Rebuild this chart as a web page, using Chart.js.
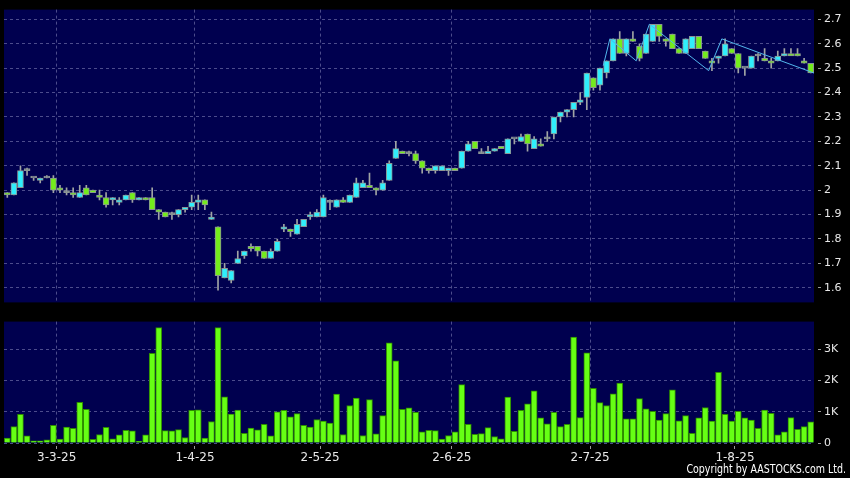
<!DOCTYPE html>
<html>
<head>
<meta charset="utf-8">
<script src="https://cdn.jsdelivr.net/npm/chart.js@4.4.1/dist/chart.umd.min.js"></script>
<style>
    html, body { margin: 0; padding: 0; background: #000; }
    #wrap { position: relative; width: 850px; height: 478px; overflow: hidden; background: #000; }
    #price { position: absolute; left: 0; top: 0; }
    #vol { position: absolute; left: 0; top: 312px; }
    #copy {
        position: absolute; right: 4px; top: 462px;
        color: #fff; font: 12px "DejaVu Sans"; white-space: nowrap;
        transform: scaleX(0.79); transform-origin: right top;
    }
</style>
</head>
<body>
<div id="wrap">
    <canvas id="price" width="850" height="312"></canvas>
    <canvas id="vol" width="850" height="166"></canvas>
    <div id="copy">Copyright by AASTOCKS.com Ltd.</div>
</div>
<script>
"use strict";

// daily candles, 20-2-25 .. 19-8-25
const open = [1.99,1.98,2.01,2.08,2.05,2.04,2.05,2.05,2.01,1.99, 1.99,1.97,2.01,2.00,1.98,1.97,1.96,1.95,1.96,1.99,
    1.96,1.97,1.97,1.92,1.91,1.90,1.90,1.92,1.93,1.95, 1.96,1.88,1.85,1.64,1.63,1.70,1.73,1.77,1.77,1.75,
    1.72,1.75,1.84,1.84,1.82,1.85,1.89,1.89,1.89,1.95, 1.93,1.96,1.95,1.97,2.01,2.02,2.01,2.00,2.04,2.13,
    2.16,2.15,2.15,2.12,2.09,2.08,2.08,2.08,2.09,2.09, 2.16,2.20,2.15,2.15,2.16,2.18,2.15,2.21,2.20,2.23,
    2.17,2.19,2.21,2.23,2.30,2.32,2.33,2.36,2.38,2.46, 2.43,2.48,2.53,2.62,2.56,2.62,2.59,2.56,2.61,2.68,
    2.62,2.64,2.58,2.56,2.58,2.63,2.57,2.53,2.54,2.55, 2.58,2.56,2.50,2.50,2.55,2.54,2.53,2.53,2.55,2.56,
    2.56,2.53,2.52];
const high = [1.99,2.03,2.10,2.09,2.05,2.05,2.06,2.06,2.02,2.01, 2.01,2.02,2.02,2.00,2.00,1.99,1.97,1.97,1.98,1.99,
    1.97,1.97,2.01,1.92,1.91,1.91,1.92,1.93,1.98,1.98, 1.96,1.91,1.85,1.70,1.67,1.75,1.75,1.78,1.77,1.75,
    1.76,1.80,1.86,1.84,1.88,1.88,1.91,1.92,1.98,1.96, 1.96,1.97,1.98,2.05,2.04,2.07,2.01,2.04,2.12,2.20,
    2.16,2.16,2.16,2.12,2.09,2.10,2.10,2.09,2.09,2.16, 2.20,2.20,2.17,2.18,2.17,2.18,2.21,2.21,2.23,2.23,
    2.22,2.21,2.24,2.30,2.32,2.33,2.36,2.40,2.48,2.46, 2.50,2.53,2.62,2.65,2.62,2.65,2.60,2.64,2.68,2.68,
    2.62,2.64,2.58,2.62,2.63,2.63,2.57,2.54,2.55,2.62, 2.58,2.56,2.50,2.55,2.56,2.58,2.54,2.57,2.58,2.58,
    2.58,2.54,2.52];
const low = [1.97,1.98,2.01,2.06,2.04,2.03,2.05,1.99,1.99,1.98, 1.97,1.97,1.98,1.99,1.96,1.93,1.94,1.94,1.96,1.95,
    1.96,1.96,1.92,1.88,1.89,1.88,1.89,1.91,1.92,1.92, 1.92,1.88,1.59,1.64,1.62,1.70,1.72,1.75,1.73,1.72,
    1.72,1.75,1.83,1.81,1.82,1.85,1.88,1.89,1.89,1.92, 1.93,1.95,1.95,1.97,2.01,2.01,1.98,2.00,2.04,2.13,
    2.15,2.14,2.11,2.07,2.07,2.07,2.08,2.06,2.08,2.09, 2.16,2.17,2.15,2.15,2.16,2.17,2.15,2.19,2.20,2.16,
    2.17,2.18,2.20,2.21,2.28,2.30,2.30,2.35,2.33,2.41, 2.41,2.46,2.53,2.56,2.55,2.61,2.53,2.56,2.61,2.61,
    2.59,2.58,2.56,2.56,2.58,2.58,2.54,2.49,2.52,2.55, 2.56,2.48,2.47,2.50,2.53,2.53,2.50,2.53,2.55,2.56,
    2.55,2.52,2.48];
const close = [1.98,2.03,2.08,2.08,2.05,2.05,2.05,2.00,2.00,1.99, 1.98,1.99,1.98,1.99,1.97,1.94,1.97,1.96,1.98,1.96,
    1.97,1.96,1.92,1.91,1.89,1.90,1.92,1.93,1.95,1.96, 1.94,1.89,1.65,1.68,1.67,1.72,1.75,1.76,1.75,1.72,
    1.75,1.79,1.85,1.83,1.86,1.88,1.90,1.91,1.97,1.95, 1.96,1.95,1.98,2.03,2.03,2.01,2.00,2.03,2.11,2.17,
    2.15,2.15,2.12,2.09,2.08,2.10,2.10,2.09,2.08,2.16, 2.19,2.17,2.15,2.16,2.17,2.17,2.21,2.21,2.22,2.19,
    2.21,2.18,2.21,2.30,2.32,2.33,2.36,2.37,2.48,2.42, 2.50,2.53,2.62,2.56,2.62,2.61,2.54,2.64,2.68,2.63,
    2.61,2.58,2.56,2.62,2.63,2.58,2.54,2.52,2.55,2.60, 2.56,2.50,2.50,2.55,2.55,2.53,2.52,2.55,2.56,2.55,
    2.55,2.52,2.48];
const volume = [156,521,917,229,73,73,104,563,125,510, 469,1302,1073,115,271,500,135,260,406,385,
    52,260,2865,3688,396,385,427,177,1042,1063, 156,688,3688,1479,927,1052,313,479,417,594,
    229,1000,1042,833,938,563,510,750,698,635, 1563,271,1198,1438,240,1385,292,875,3198,2625,
    1073,1125,979,354,406,396,125,240,354,1865, 594,281,302,490,208,135,1469,375,1042,1250,
    1667,802,615,979,521,594,3385,813,2885,1750, 1292,1198,1573,1917,771,771,1417,1094,1010,729,
    938,1698,708,875,313,802,1135,698,2260,917, 698,1010,802,729,469,1052,948,260,354,813,
    438,521,677];

// zigzag turning points (bar position, price)
const zigX = [90.5, 91.5, 95.5, 97.5, 106.5, 108.5, 122.5];
const zigY = [2.51, 2.62, 2.53, 2.68, 2.49, 2.62, 2.48];

// date ticks: bar index and label
const tickIdx = [7, 28, 47, 67, 88, 110];
const tickLabels = ["3-3-25", "1-4-25", "2-5-25", "2-6-25", "2-7-25", "1-8-25"];
const priceTicks = [1.6, 1.7, 1.8, 1.9, 2.0, 2.1, 2.2, 2.3, 2.4, 2.5, 2.6, 2.7];
const volTicks = [0, 1000, 2000, 3000];

const UP = "#30eefc";
const DOWN = "#74ec1c";
const FLAT = "#8c9696";
const GRID = "#4c4c8c";
const TEXT = "#e8e8e8";
const FONT = "DejaVu Sans";

const n = open.length;
const idx = open.map(function (v, i) { return i; });

const plotBg = {
    id: "plotBg",
    beforeDraw: function (chart) {
        const a = chart.chartArea;
        const ctx = chart.ctx;
        ctx.save();
        ctx.fillStyle = "#00004f";
        ctx.fillRect(a.left, a.top, a.right - a.left, a.bottom - a.top);
        ctx.restore();
    }
};

function xAxis(showLabels) {
    return {
        type: "linear",
        min: -0.5,
        max: n - 0.5,
        offset: false,
        afterBuildTicks: function (s) {
            s.ticks = tickIdx.map(function (i) { return { value: i + 0.5 }; });
        },
        afterFit: function (s) { s.height = showLabels ? 35 : 0; },
        ticks: {
            display: showLabels,
            autoSkip: false,
            maxRotation: 0,
            padding: 2,
            color: TEXT,
            font: { family: FONT, size: 12 },
            callback: function (v, i) { return tickLabels[i]; }
        },
        grid: {
            offset: false,
            color: GRID,
            drawTicks: showLabels,
            tickLength: 6,
            tickColor: "#9a9a9a",
            tickBorderDash: [0, 3, 3, 0]
        },
        border: { display: false, dash: [3, 3] }
    };
}

function yAxis(min, max, ticks, fmt) {
    return {
        position: "right",
        min: min,
        max: max,
        afterBuildTicks: function (s) {
            s.ticks = ticks.map(function (v) { return { value: v }; });
        },
        afterFit: function (s) { s.width = 36; },
        ticks: {
            padding: 3,
            color: TEXT,
            font: { family: FONT, size: 11 },
            callback: fmt
        },
        grid: {
            color: GRID,
            tickLength: 7,
            tickColor: "#9a9a9a",
            tickBorderDash: [0, 4, 3, 0]
        },
        border: { display: false, dash: [3, 3] }
    };
}

function bodyColor(i) {
    if (close[i] > open[i]) return UP;
    if (close[i] < open[i]) return DOWN;
    return FLAT;
}

new Chart(document.getElementById("price"), {
    type: "bar",
    data: {
        datasets: [
            {
                type: "line",
                data: zigX.map(function (x, k) { return { x: x, y: zigY[k] }; }),
                borderColor: "#52b6ec",
                borderWidth: 1,
                pointRadius: 0,
                fill: false,
                tension: 0,
                order: 1
            },
            {
                data: idx.map(function (i) { return { x: i, y: [open[i], close[i]] }; }),
                backgroundColor: function (c) { return bodyColor(c.dataIndex); },
                borderColor: "#8a9494",
                borderWidth: 1,
                borderSkipped: false,
                barThickness: 6,
                minBarLength: 2,
                grouped: false,
                order: 2
            },
            {
                data: idx.map(function (i) { return { x: i, y: [low[i], high[i]] }; }),
                backgroundColor: "#a0a4a4",
                barThickness: 1,
                grouped: false,
                order: 3
            }
        ]
    },
    options: {
        responsive: false,
        animation: false,
        events: [],
        layout: { padding: { left: 4, right: 0, top: 5, bottom: 7 } },
        plugins: { legend: { display: false }, tooltip: { enabled: false } },
        scales: {
            x: xAxis(false),
            y: yAxis(1.54, 2.74, priceTicks, function (v) {
                return String(Number(v.toFixed(1)));
            })
        }
    },
    plugins: [plotBg]
});

new Chart(document.getElementById("vol"), {
    type: "bar",
    data: {
        datasets: [
            {
                data: idx.map(function (i) { return { x: i, y: volume[i] }; }),
                backgroundColor: "#66ff14",
                borderColor: "#2e8c00",
                borderWidth: 1,
                borderSkipped: "start",
                barThickness: 6
            }
        ]
    },
    options: {
        responsive: false,
        animation: false,
        events: [],
        layout: { padding: { left: 4, right: 0, top: 7, bottom: 0 } },
        plugins: { legend: { display: false }, tooltip: { enabled: false } },
        scales: {
            x: xAxis(true),
            y: yAxis(0, 3880, volTicks, function (v) {
                return v === 0 ? "0" : v / 1000 + "K";
            })
        }
    },
    plugins: [plotBg]
});
</script>
</body>
</html>
